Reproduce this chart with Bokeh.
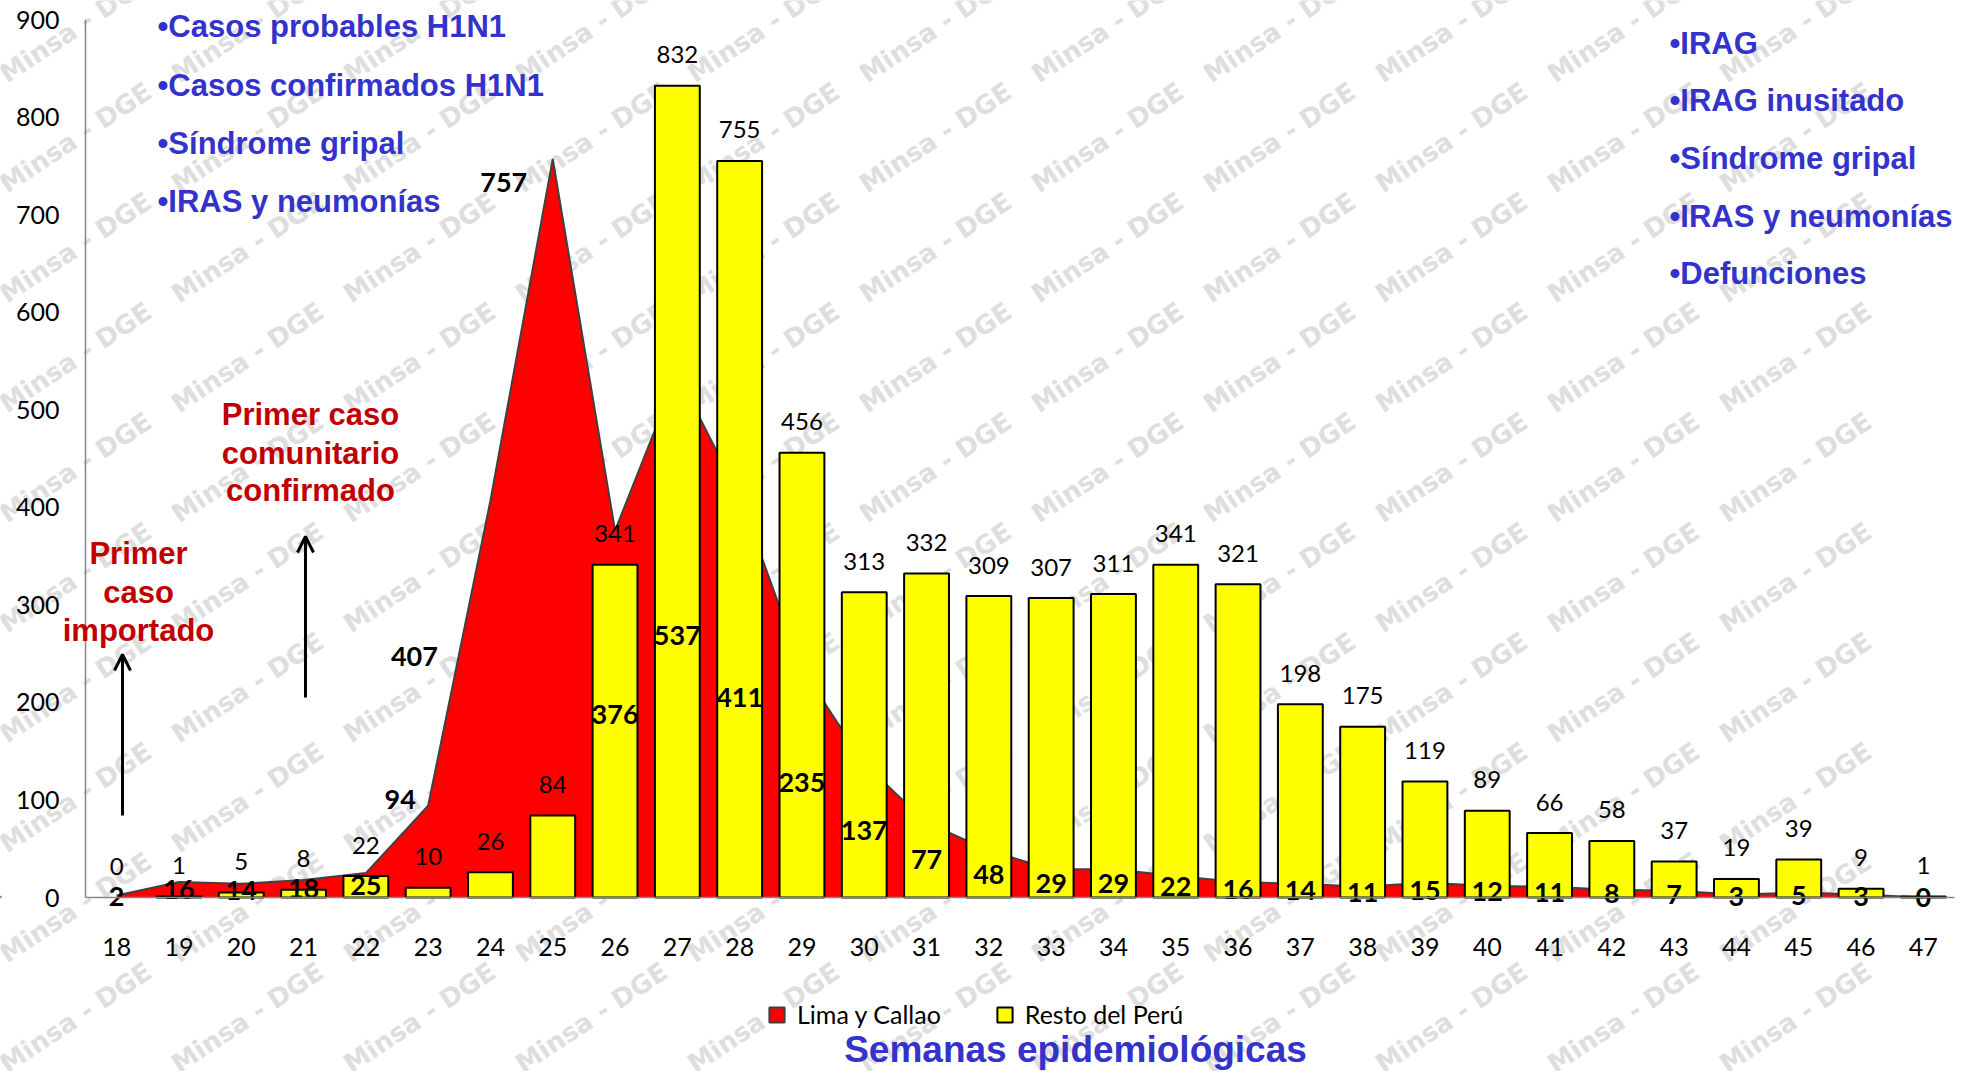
from bokeh.plotting import figure
from bokeh.models import (ColumnDataSource, FixedTicker, Label, Arrow, CDSView, BooleanFilter,
                          OpenHead, Legend, LegendItem, Range1d)
from bokeh.core.properties import value
from bokeh.embed import file_html
from bokeh.resources import INLINE

# ---------------- data ----------------
weeks = list(range(18, 48))
week_labels = [str(w) for w in weeks]
lima_callao = [2, 16, 14, 18, 25, 94, 407, 757, 376, 537, 411, 235, 137, 77, 48,
               29, 29, 22, 16, 14, 11, 15, 12, 11, 8, 7, 3, 5, 3, 0]
resto_peru = [0, 1, 5, 8, 22, 10, 26, 84, 341, 832, 755, 456, 313, 332, 309,
              307, 311, 341, 321, 198, 175, 119, 89, 66, 58, 37, 19, 39, 9, 1]
y_ticks = [0, 100, 200, 300, 400, 500, 600, 700, 800, 900]
series_names = ["Lima y Callao", "Resto del Perú"]
x_title = "Semanas epidemiológicas"
list_left = ["•Casos probables H1N1", "•Casos confirmados H1N1", "•Síndrome gripal",
             "•IRAS y neumonías"]
list_right = ["•IRAG", "•IRAG inusitado", "•Síndrome gripal", "•IRAS y neumonías",
              "•Defunciones"]
note_comunitario = ["Primer caso", "comunitario", "confirmado"]
note_importado = ["Primer", "caso", "importado"]
watermark = "Minsa - DGE"

# ---------------- layout ----------------
W, H = 1965, 1071
# pixel positions of the chart area in the picture
PL, PR, PT, PB = 85, 1954, 19, 897
XA, XB = 17.5, 47.5
YA, YB = 0, 900
KX = (PR - PL) / (XB - XA)
KY = (PB - PT) / (YB - YA)


def dx(px):
    return XA + (px - PL) / KX


def dy(py):
    return YA + (PB - py) / KY


p = figure(width=W, height=H,
           x_range=Range1d(dx(0), dx(W)), y_range=Range1d(dy(H), dy(0)),
           output_backend="svg", toolbar_location=None, min_border=0)
p.outline_line_color = None
p.xgrid.visible = False
p.ygrid.visible = False
p.background_fill_color = "white"
p.border_fill_color = "white"

# watermark (drawn first, under everything)
wx, wy, wt = [], [], []
for i in range(-1, 13):
    for j in range(0, 10):
        cx, cy = 75 + 172 * i, 27 + 110 * j
        if 0 <= cx <= W and 0 <= cy <= H:
            wx.append(dx(cx))
            wy.append(dy(cy))
            wt.append(watermark)
p.text(x=wx, y=wy, text=wt, angle=0.588, text_align="center", text_baseline="middle",
       text_font=value("DejaVu Sans"), text_font_style="bold",
       text_font_size="26px", text_color="#dedede")

src = ColumnDataSource(dict(
    week=weeks,
    lima=lima_callao,
    resto=resto_peru,
    lima_half=[v / 2 for v in lima_callao],
    lima_txt=[str(v) for v in lima_callao],
    resto_txt=[str(v) for v in resto_peru],
))

# red area
p.varea(x="week", y1=0, y2="lima", source=src, fill_color="#FF0000")
p.line(x="week", y="lima", source=src, line_color="#404040", line_width=2)

# yellow bars (a zero bar is not drawn)
bar_view = CDSView(filter=BooleanFilter([v > 0 for v in resto_peru]))
bars = p.vbar(x="week", top="resto", width=0.72, source=src, view=bar_view,
              fill_color="#FFFF00", line_color="black", line_width=2)

# yellow labels
p.text(x="week", y="resto", text="resto_txt", source=src, y_offset=-31,
       text_align="center", text_baseline="middle", text_font=value("Lato"),
       text_font_size="24px", text_color="black")

# red labels (some moved by hand in the original)
red_label_shift = {23: (-28, -52), 24: (-76, -42), 25: (-49, -346)}
src.data["ldx"] = [red_label_shift.get(w, (0, 0))[0] for w in weeks]
src.data["ldy"] = [red_label_shift.get(w, (0, 0))[1] for w in weeks]
p.text(x="week", y="lima_half", text="lima_txt", source=src, x_offset="ldx", y_offset="ldy",
       text_align="center", text_baseline="middle", text_font=value("Lato"),
       text_font_style="bold", text_font_size="27px", text_color="black")

# axes (placed inside the full-canvas frame)
p.xaxis.fixed_location = 0
p.xaxis.bounds = (XA, XB)
p.yaxis.fixed_location = XA
p.yaxis.bounds = (YA, YB)
p.xaxis.ticker = FixedTicker(ticks=weeks)
p.xaxis.major_label_overrides = {w: s for w, s in zip(weeks, week_labels)}
p.yaxis.ticker = FixedTicker(ticks=y_ticks)
for ax in (p.xaxis[0], p.yaxis[0]):
    ax.axis_line_color = "#868686"
    ax.axis_line_width = 1.5
    ax.major_tick_line_color = None
    ax.minor_tick_line_color = None
    ax.major_tick_in = 0
    ax.major_tick_out = 0
    ax.minor_tick_in = 0
    ax.minor_tick_out = 0
    ax.major_label_text_font = "Lato"
    ax.major_label_text_font_size = "25px"
    ax.major_label_text_color = "black"
p.yaxis.major_label_standoff = 26
p.xaxis.major_label_standoff = 40

# legend (red proxy sits outside the visible range, only used for the key)
leg_red = p.vbar(x=[0], top=[1], width=0.7, fill_color="#FF0000", line_color="#404040",
                 line_width=2)
legend = Legend(items=[LegendItem(label=series_names[0], renderers=[leg_red]),
                       LegendItem(label=series_names[1], renderers=[bars])],
                orientation="horizontal", location=(767, H - 1029),
                glyph_width=19, glyph_height=19, label_height=19, label_standoff=11,
                spacing=54, padding=0, margin=0, border_line_color=None,
                background_fill_alpha=0, label_text_font="Lato",
                label_text_font_size="25px", label_text_color="black")
p.add_layout(legend)

# x title
p.add_layout(Label(x=dx(1075), y=dy(1049), text=x_title, text_align="center",
                   text_baseline="middle", text_font="Liberation Sans",
                   text_font_style="bold", text_font_size="37px", text_color="#3333CC"))

# blue lists
for t, py in zip(list_left, [26, 85, 143, 201]):
    p.add_layout(Label(x=dx(157), y=dy(py), text=t, text_align="left",
                       text_baseline="middle", text_font="Liberation Sans",
                       text_font_style="bold", text_font_size="31px",
                       text_color="#3333CC"))
for t, py in zip(list_right, [43, 100, 158, 216, 273]):
    p.add_layout(Label(x=dx(1669), y=dy(py), text=t, text_align="left",
                       text_baseline="middle", text_font="Liberation Sans",
                       text_font_style="bold", text_font_size="31px",
                       text_color="#3333CC"))

# dark red notes
for t, py in zip(note_comunitario, [414, 453, 490]):
    p.add_layout(Label(x=dx(310), y=dy(py), text=t, text_align="center",
                       text_baseline="middle", text_font="Liberation Sans",
                       text_font_style="bold", text_font_size="31px",
                       text_color="#C00000"))
for t, py in zip(note_importado, [553, 592, 630]):
    p.add_layout(Label(x=dx(138), y=dy(py), text=t, text_align="center",
                       text_baseline="middle", text_font="Liberation Sans",
                       text_font_style="bold", text_font_size="31px",
                       text_color="#C00000"))

# arrows
p.add_layout(Arrow(end=OpenHead(size=16, line_width=3, line_color="black"),
                   x_start=dx(122), y_start=dy(815), x_end=dx(122), y_end=dy(654),
                   line_width=3, line_color="black"))
p.add_layout(Arrow(end=OpenHead(size=16, line_width=3, line_color="black"),
                   x_start=dx(305), y_start=dy(697), x_end=dx(305), y_end=dy(536),
                   line_width=3, line_color="black"))

open("out.html", "w").write(file_html(p, INLINE))
